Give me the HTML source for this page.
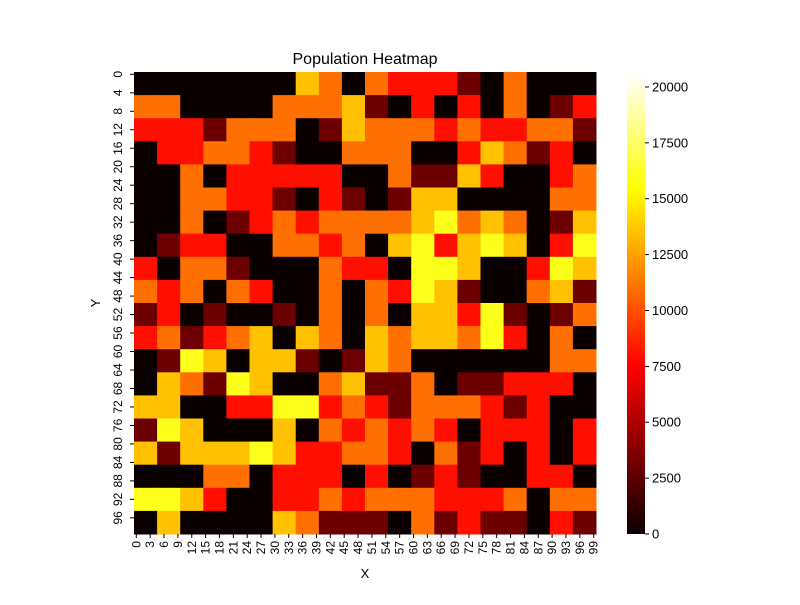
<!DOCTYPE html>
<html><head><meta charset="utf-8"><style>
body{margin:0;background:#fff;font-family:"Liberation Sans",sans-serif}
svg text{font-family:"Liberation Sans",sans-serif;fill:#000}
</style></head><body>
<svg id="chart" width="800" height="600">
<text x="365" y="64" text-anchor="middle" font-size="16">Population Heatmap</text>
<g id="cells"></g>
<g id="xaxis"></g>
<g id="yaxis"></g>
<text x="365" y="578" text-anchor="middle" font-size="13">X</text>
<text x="100" y="303" text-anchor="middle" font-size="13" transform="rotate(-90 100 303)">Y</text>
<defs><linearGradient id="hotg" x1="0" y1="1" x2="0" y2="0">
<stop offset="0" stop-color="#0b0000"/><stop offset="0.365" stop-color="#ff0000"/><stop offset="0.746" stop-color="#ffff00"/><stop offset="1" stop-color="#ffffff"/></linearGradient></defs>
<rect x="627" y="72" width="18" height="462" fill="url(#hotg)"/>
<g id="cbar"></g>
</svg>
<script>
const levelValues = [0, 3000, 8000, 11000, 13500, 16000, 19000];
const gridRows = [
"00000004303222103000","33000033341020203012","22213330143332322331","02233210033300243120",
"00302222200311420023","00332210210144000033","00301232333345343014","01220033230452454025",
"20331000322055400254","32303200303254100341","12010010303044251013","23123404304344352030",
"01540441014300000033","04315400341130112220","44002255232133321200","15400040323232022202",
"41444542233203120202","00033022202012100220","55420022323332223033","04000043111031211021"];
const xTicks = [0,3,6,9,12,15,18,21,24,27,30,33,36,39,42,45,48,51,54,57,60,63,66,69,72,75,78,81,84,87,90,93,96,99];
const yTicks = [0,4,8,12,16,20,24,28,32,36,40,44,48,52,56,60,64,68,72,76,80,84,88,92,96];
const cbTicks = [0,2500,5000,7500,10000,12500,15000,17500,20000];
const vmax = 20670, N = 100, BLOCK = 5;
const X0 = 134, Y0 = 72, W = 462, H = 462;
const NS = "http://www.w3.org/2000/svg";
function xs(i){return X0 + i*W/N;}
function ys(j){return Y0 + j*H/N;}
function cb(v){return 534 - v/vmax*462;}
function hot(v){const t=Math.max(0,Math.min(1,v/vmax));
 const r=Math.min(1,0.0416+t/0.365*0.9584),g=Math.max(0,Math.min(1,(t-0.365)/0.381)),b=Math.max(0,Math.min(1,(t-0.746)/0.254));
 return `rgb(${Math.round(r*255)},${Math.round(g*255)},${Math.round(b*255)})`;}
const cells=document.getElementById('cells');
gridRows.forEach((row,r)=>{[...row].forEach((c,k)=>{
 const v=levelValues[+c];
 const el=document.createElementNS(NS,'rect');
 el.setAttribute('x',xs(k*BLOCK));el.setAttribute('y',ys(r*BLOCK));
 el.setAttribute('width',W/N*BLOCK+0.5);el.setAttribute('height',H/N*BLOCK+0.5);
 el.setAttribute('fill',hot(v));
 
 
 cells.appendChild(el);});});
const xa=document.getElementById('xaxis');
xTicks.forEach(t=>{const x=xs(t+0.5);
 const l=document.createElementNS(NS,'line');l.setAttribute('x1',x);l.setAttribute('x2',x);l.setAttribute('y1',534);l.setAttribute('y2',538);l.setAttribute('stroke','#000');xa.appendChild(l);
 const tx=document.createElementNS(NS,'text');tx.setAttribute('font-size','12');tx.setAttribute('text-anchor','end');
 tx.setAttribute('transform',`translate(${x+4},541) rotate(-90)`);tx.textContent=t;
 
 
 xa.appendChild(tx);});
const ya=document.getElementById('yaxis');
yTicks.forEach(t=>{const y=ys(t+0.5);
 const l=document.createElementNS(NS,'line');l.setAttribute('x1',130);l.setAttribute('x2',134);l.setAttribute('y1',y);l.setAttribute('y2',y);l.setAttribute('stroke','#000');ya.appendChild(l);
 const tx=document.createElementNS(NS,'text');tx.setAttribute('font-size','12');tx.setAttribute('text-anchor','middle');
 tx.setAttribute('transform',`translate(122,${y}) rotate(-90)`);tx.textContent=t;
 
 
 ya.appendChild(tx);});
const ca=document.getElementById('cbar');
cbTicks.forEach(t=>{const y=cb(t);
 const l=document.createElementNS(NS,'line');l.setAttribute('x1',645);l.setAttribute('x2',649);l.setAttribute('y1',y);l.setAttribute('y2',y);l.setAttribute('stroke','#000');ca.appendChild(l);
 const tx=document.createElementNS(NS,'text');tx.setAttribute('font-size','13');tx.setAttribute('x',652);tx.setAttribute('y',y+4.5);tx.textContent=t;
 
 
 ca.appendChild(tx);});
</script>
</body></html>
